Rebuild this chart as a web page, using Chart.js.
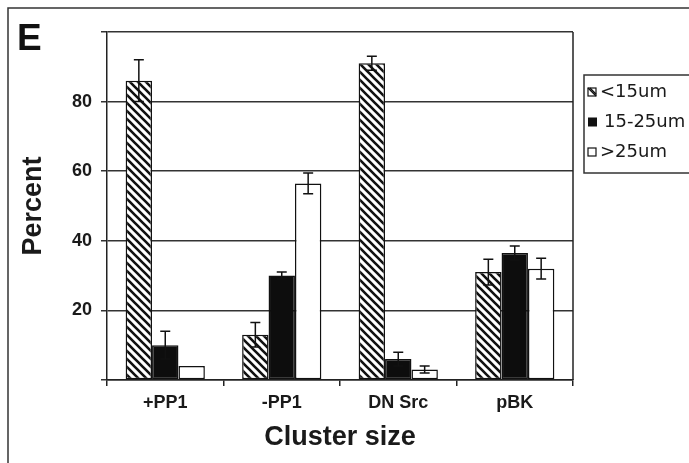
<!DOCTYPE html>
<html>
<head>
<meta charset="utf-8">
<script src="https://cdn.jsdelivr.net/npm/chart.js@4"></script>
<style>
  html, body { margin: 0; padding: 0; background: #fff; }
  #wrap { width: 689px; height: 463px; }
</style>
</head>
<body>
<div id="wrap"><canvas id="chart" width="689" height="463"></canvas></div>
<script>
// values
const categories = ["+PP1", "-PP1", "DN Src", "pBK"];
const seriesNames = ["<15um", "15-25um", ">25um"];
const smallVals = [86, 13, 91, 31];
const smallErr = [6, 3.5, 2, 3.7];
const midVals = [10, 30, 6, 36.5];
const midErr = [4, 1, 2, 2];
const largeVals = [4, 56.5, 3, 32];
const largeErr = [0, 3, 1, 3];
const yTicks = [20, 40, 60, 80];

// diagonal hatch for the <15um bars
function makeHatch() {
    const c = document.createElement("canvas");
    c.width = 8; c.height = 8;
    const g = c.getContext("2d");
    g.fillStyle = "#fff";
    g.fillRect(0, 0, 8, 8);
    g.strokeStyle = "#111";
    g.lineWidth = 2.6;
    g.beginPath();
    g.moveTo(-2, -2); g.lineTo(10, 10);
    g.moveTo(-10, -2); g.lineTo(2, 10);
    g.moveTo(6, -2); g.lineTo(18, 10);
    g.stroke();
    return g.createPattern(c, "repeat");
}
const hatch = makeHatch();

const errorBars = {
    id: "errorBars",
    afterDatasetsDraw(chart) {
        const ctx = chart.ctx;
        const y = chart.scales.y;
        ctx.save();
        ctx.strokeStyle = "#111";
        ctx.lineWidth = 1.5;
        chart.data.datasets.forEach((ds, i) => {
            const meta = chart.getDatasetMeta(i);
            meta.data.forEach((bar, j) => {
                const e = ds.errors[j];
                if (!e) return;
                const v = ds.data[j];
                const top = y.getPixelForValue(v + e);
                const bot = y.getPixelForValue(v - e);
                ctx.beginPath();
                ctx.moveTo(bar.x, top); ctx.lineTo(bar.x, bot);
                ctx.moveTo(bar.x - 5, top); ctx.lineTo(bar.x + 5, top);
                ctx.moveTo(bar.x - 5, bot); ctx.lineTo(bar.x + 5, bot);
                ctx.stroke();
            });
        });
        ctx.restore();
    }
};

const decorations = {
    id: "decorations",
    afterDraw(chart) {
        const ctx = chart.ctx;
        const a = chart.chartArea;
        ctx.save();
        // outer panel frame
        ctx.strokeStyle = "#333";
        ctx.lineWidth = 1.5;
        ctx.beginPath();
        ctx.moveTo(8, 463); ctx.lineTo(8, 8); ctx.lineTo(689, 8);
        ctx.stroke();
        // right edge of plot box
        ctx.strokeStyle = "#222";
        ctx.beginPath();
        ctx.moveTo(a.right, a.top); ctx.lineTo(a.right, a.bottom);
        ctx.stroke();
        // panel letter
        ctx.fillStyle = "#111";
        ctx.font = "bold 37px 'Liberation Sans', Arial, sans-serif";
        ctx.textBaseline = "alphabetic";
        ctx.fillText("E", 17, 50);
        // legend box
        ctx.lineWidth = 1.5;
        ctx.strokeStyle = "#333";
        ctx.strokeRect(584, 75, 120, 98);
        ctx.font = "18px 'DejaVu Sans', sans-serif";
        ctx.textBaseline = "middle";
        const rows = [92, 122, 152];
        chart.data.datasets.forEach((ds, i) => {
            const cy = rows[i];
            ctx.lineWidth = 1.2;
            ctx.strokeStyle = "#111";
            if (i === 1) {
                ctx.fillStyle = "#111";
                ctx.fillRect(588, cy - 4.5, 9, 9);
            } else {
                ctx.strokeRect(588, cy - 4, 8, 8);
                if (i === 0) {
                    ctx.beginPath();
                    ctx.moveTo(588, cy - 4); ctx.lineTo(596, cy + 4);
                    ctx.moveTo(590, cy - 4); ctx.lineTo(596, cy + 2);
                    ctx.stroke();
                }
            }
            ctx.fillStyle = "#1a1a1a";
            ctx.fillText(ds.label, i === 1 ? 604 : 600, cy);
        });
        ctx.restore();
    }
};

new Chart(document.getElementById("chart"), {
    type: "bar",
    data: {
        labels: categories,
        datasets: [
            { label: seriesNames[0], data: smallVals, errors: smallErr, backgroundColor: hatch },
            { label: seriesNames[1], data: midVals, errors: midErr, backgroundColor: "#0d0d0d" },
            { label: seriesNames[2], data: largeVals, errors: largeErr, backgroundColor: "#fff" }
        ].map(ds => Object.assign(ds, {
            borderColor: "#111",
            borderWidth: 1.5,
            borderSkipped: false,
            categoryPercentage: 0.68,
            barPercentage: 1
        }))
    },
    options: {
        responsive: false,
        animation: false,
        layout: { padding: { left: 0, top: 32, right: 116, bottom: 0 } },
        plugins: { legend: { display: false }, tooltip: { enabled: false } },
        scales: {
            x: {
                afterFit: s => { s.height = 83; },
                grid: { drawOnChartArea: false, drawTicks: true, tickLength: 6, color: "#222", lineWidth: 1.5, offset: true },
                border: { color: "#222", width: 1.5 },
                ticks: {
                    color: "#1a1a1a",
                    padding: 6,
                    font: { family: "'Liberation Sans', Arial, sans-serif", size: 18, weight: "bold" }
                },
                title: {
                    display: true,
                    text: "Cluster size",
                    color: "#1a1a1a",
                    padding: { top: 0, bottom: 9 },
                    font: { family: "'Liberation Sans', Arial, sans-serif", size: 27, weight: "bold", lineHeight: 1.2 }
                }
            },
            y: {
                min: 0,
                max: 100,
                afterFit: s => { s.width = 107; },
                grid: { color: "#333", lineWidth: 1.5, drawTicks: true, tickLength: 6 },
                border: { color: "#222", width: 1.5 },
                ticks: {
                    stepSize: 20,
                    color: "#1a1a1a",
                    padding: 9,
                    font: { family: "'Liberation Sans', Arial, sans-serif", size: 18, weight: "bold" },
                    callback: v => yTicks.includes(v) ? String(v) : ""
                },
                title: {
                    display: true,
                    text: "Percent",
                    color: "#1a1a1a",
                    padding: { top: 17, bottom: 0 },
                    font: { family: "'Liberation Sans', Arial, sans-serif", size: 27, weight: "bold", lineHeight: 1.2 }
                }
            }
        }
    },
    plugins: [errorBars, decorations]
});
</script>
</body>
</html>
